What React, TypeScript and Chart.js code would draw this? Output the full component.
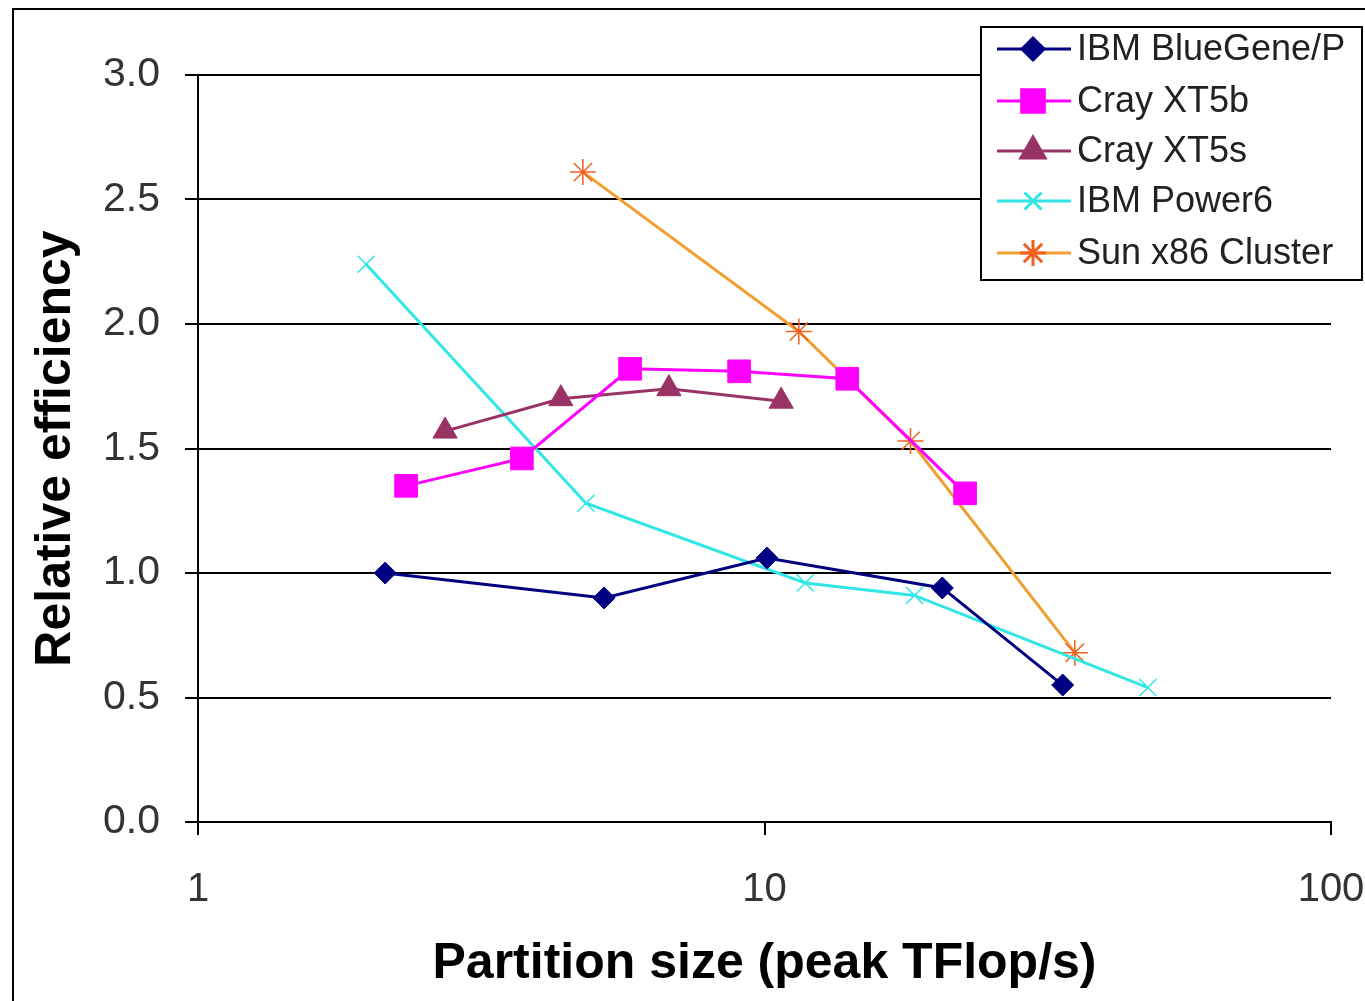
import React, { useEffect, useRef } from 'react';
import { Chart, registerables } from 'chart.js';
import { drawPoint } from 'chart.js/helpers';

Chart.register(...registerables);

const seriesNames = ['IBM BlueGene/P', 'Cray XT5b', 'Cray XT5s', 'IBM Power6', 'Sun x86 Cluster'];

const blueGeneX = [2.14, 5.21, 10.1, 20.6, 33.6];
const blueGeneY = [1.0, 0.9, 1.06, 0.94, 0.55];

const xt5bX = [2.33, 3.73, 5.79, 9.02, 14.0, 22.6];
const xt5bY = [1.35, 1.46, 1.82, 1.81, 1.78, 1.32];

const xt5sX = [2.73, 4.37, 6.78, 10.7];
const xt5sY = [1.57, 1.7, 1.74, 1.69];

const power6X = [1.98, 4.84, 11.8, 18.4, 47.5];
const power6Y = [2.24, 1.28, 0.96, 0.91, 0.54];

const sunX = [4.78, 11.5, 18.1, 35.3];
const sunY = [2.61, 1.97, 1.53, 0.68];

const xTickValues = [1, 10, 100];

const FONT = "'Liberation Sans', Arial, sans-serif";

function pts(xs: number[], ys: number[]) {
  return xs.map((x, i) => ({ x, y: ys[i] }));
}

const styles = [
  { line: '#000080', point: '#000080', fill: '#000080', style: 'rectRot', radius: 11, pbw: 1 },
  { line: '#FF00FF', point: '#FF00FF', fill: '#FF00FF', style: 'rect', radius: 16, pbw: 1 },
  { line: '#993366', point: '#993366', fill: '#993366', style: 'triangle', radius: 14, pbw: 1 },
  { line: '#33E6E6', point: '#33E6E6', fill: '#33E6E6', style: 'crossRot', radius: 12, pbw: 1.5 },
  { line: '#F0A030', point: '#F06020', fill: '#F06020', style: 'star', radius: 13, pbw: 1.5 },
];

const bgBorderPlugin = {
  id: 'bgBorder',
  beforeDraw(chart: any) {
    const ctx = chart.ctx;
    ctx.save();
    ctx.fillStyle = '#ffffff';
    ctx.fillRect(0, 0, chart.width, chart.height);
    ctx.strokeStyle = '#000';
    ctx.lineWidth = 2;
    ctx.beginPath();
    ctx.moveTo(13, chart.height + 5);
    ctx.lineTo(13, 9);
    ctx.lineTo(chart.width + 5, 9);
    ctx.stroke();
    ctx.restore();
  },
};

const customLegendPlugin = {
  id: 'customLegend',
  afterDraw(chart: any) {
    const ctx = chart.ctx;
    const left = 981, top = 27, right = 1362, bottom = 280;
    ctx.save();
    ctx.fillStyle = '#fff';
    ctx.fillRect(left, top, right - left, bottom - top);
    ctx.strokeStyle = '#000';
    ctx.lineWidth = 2;
    ctx.strokeRect(left, top, right - left, bottom - top);
    const rows = [49, 101, 151, 201, 253];
    chart.data.datasets.forEach((ds: any, i: number) => {
      const y = rows[i];
      const st = styles[i];
      ctx.strokeStyle = st.line;
      ctx.lineWidth = 3;
      ctx.beginPath();
      ctx.moveTo(997, y);
      ctx.lineTo(1071, y);
      ctx.stroke();
      ctx.fillStyle = st.fill;
      ctx.strokeStyle = st.point;
      drawPoint(ctx, { pointStyle: st.style, radius: st.radius, borderWidth: st.pbw, rotation: 0 } as any, 1033, y);
      ctx.fillStyle = '#222';
      ctx.font = `36px ${FONT}`;
      ctx.textBaseline = 'middle';
      ctx.textAlign = 'left';
      ctx.fillText(ds.label, 1077, y + 1);
    });
    ctx.restore();
  },
};

export default function App() {
  const ref = useRef<HTMLCanvasElement | null>(null);

  useEffect(() => {
    document.body.style.margin = '0';
    document.body.style.overflow = 'hidden';
    const canvas = ref.current;
    if (!canvas) return;
    const data = [
      pts(blueGeneX, blueGeneY),
      pts(xt5bX, xt5bY),
      pts(xt5sX, xt5sY),
      pts(power6X, power6Y),
      pts(sunX, sunY),
    ];
    const chart = new Chart(canvas, {
      type: 'line',
      data: {
        datasets: seriesNames.map((name, i) => ({
          label: name,
          data: data[i],
          borderColor: styles[i].line,
          backgroundColor: styles[i].fill,
          borderWidth: 3,
          pointStyle: styles[i].style as any,
          pointRadius: styles[i].radius,
          pointBorderColor: styles[i].point,
          pointBackgroundColor: styles[i].fill,
          pointBorderWidth: styles[i].pbw,
          tension: 0,
          fill: false,
        })),
      },
      options: {
        animation: false,
        responsive: false,
        devicePixelRatio: 1,
        layout: { padding: { left: 0, right: 34, top: 75, bottom: 0 } },
        plugins: {
          legend: { display: false },
          tooltip: { enabled: false },
        },
        scales: {
          x: {
            type: 'logarithmic',
            min: 1,
            max: 100,
            afterBuildTicks: (s: any) => {
              s.ticks = xTickValues.map((v) => ({ value: v }));
            },
            afterFit: (s: any) => {
              s.height = 179;
              s.paddingRight = 0;
              s.paddingLeft = 0;
            },
            ticks: {
              callback: (v: any) => String(v),
              font: { family: FONT, size: 40 },
              color: '#333',
              padding: 31,
              maxRotation: 0,
              autoSkip: false,
            },
            grid: {
              drawOnChartArea: false,
              drawTicks: true,
              tickLength: 13,
              color: '#000',
              lineWidth: 2,
            },
            border: { display: true, color: '#000', width: 2 },
            title: {
              display: true,
              text: 'Partition size (peak TFlop/s)',
              font: { family: FONT, size: 50, weight: 'bold' },
              color: '#000',
              padding: { top: 0, bottom: 7 },
            },
          },
          y: {
            type: 'linear',
            min: 0,
            max: 3,
            afterFit: (s: any) => {
              s.width = 198;
            },
            ticks: {
              stepSize: 0.5,
              callback: (v: any) => Number(v).toFixed(1),
              font: { family: FONT, size: 41 },
              color: '#333',
              padding: 25,
            },
            grid: {
              color: '#000',
              lineWidth: 2,
              tickLength: 13,
              drawTicks: true,
            },
            border: { display: true, color: '#000', width: 2 },
            title: {
              display: true,
              text: 'Relative efficiency',
              font: { family: FONT, size: 50, weight: 'bold' },
              color: '#000',
              padding: { top: 26, bottom: 0 },
            },
          },
        },
      },
      plugins: [bgBorderPlugin, customLegendPlugin],
    });
    return () => chart.destroy();
  }, []);

  return (
    <div style={{ width: 1365, height: 1001 }}>
      <canvas ref={ref} width={1365} height={1001} style={{ display: 'block' }} />
    </div>
  );
}
